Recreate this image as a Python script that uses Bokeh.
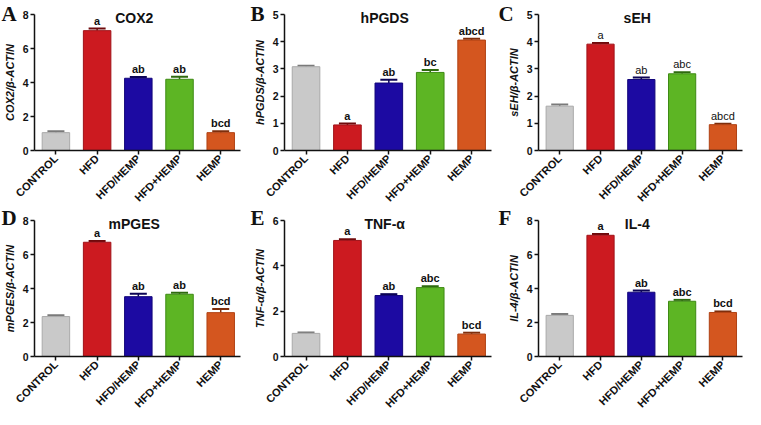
import numpy as np
from bokeh.plotting import figure
from bokeh.models import Range1d, FixedTicker, Label, LabelSet, ColumnDataSource
from bokeh.layouts import gridplot
from bokeh.embed import file_html
from bokeh.resources import INLINE
from bokeh.core.properties import value

groups = ["CONTROL", "HFD", "HFD/HEMP", "HFD+HEMP", "HEMP"]
bar_fill = ["#c9c9c9", "#cc1a20", "#1c0aa2", "#5db524", "#d4561f"]
bar_line = ["#a9a9a9", "#a01218", "#12067a", "#3e8a14", "#b04214"]
err_color = ["#7a7a7a", "#6e0a0c", "#0c0455", "#2e6a0e", "#7e2e0c"]

cox2_mean = [1.05, 7.05, 4.25, 4.19, 1.05]
cox2_err = [0.08, 0.12, 0.08, 0.15, 0.08]
cox2_sig = ["", "a", "ab", "ab", "bcd"]

hpgds_mean = [3.08, 0.94, 2.48, 2.87, 4.06]
hpgds_err = [0.04, 0.05, 0.12, 0.09, 0.05]
hpgds_sig = ["", "a", "ab", "bc", "abcd"]

seh_mean = [1.63, 3.91, 2.61, 2.82, 0.95]
seh_err = [0.06, 0.04, 0.07, 0.06, 0.03]
seh_sig = ["", "a", "ab", "abc", "abcd"]

mpges_mean = [2.35, 6.72, 3.52, 3.66, 2.58]
mpges_err = [0.07, 0.07, 0.17, 0.09, 0.22]
mpges_sig = ["", "a", "ab", "ab", "bcd"]

tnf_mean = [1.02, 5.12, 2.69, 3.04, 0.99]
tnf_err = [0.04, 0.05, 0.06, 0.06, 0.06]
tnf_sig = ["", "a", "ab", "abc", "bcd"]

il4_mean = [2.42, 7.13, 3.78, 3.25, 2.59]
il4_err = [0.08, 0.08, 0.1, 0.08, 0.06]
il4_sig = ["", "a", "ab", "abc", "bcd"]

panels = [
    ("A", "COX2", "COX2/β-ACTIN", cox2_mean, cox2_err, cox2_sig, 8, [0, 2, 4, 6, 8], "bold"),
    ("B", "hPGDS", "hPGDS/β-ACTIN", hpgds_mean, hpgds_err, hpgds_sig, 5, [0, 1, 2, 3, 4, 5], "bold"),
    ("C", "sEH", "sEH/β-ACTIN", seh_mean, seh_err, seh_sig, 5, [0, 1, 2, 3, 4, 5], "normal"),
    ("D", "mPGES", "mPGES/β-ACTIN", mpges_mean, mpges_err, mpges_sig, 8, [0, 2, 4, 6, 8], "bold"),
    ("E", "TNF-α", "TNF-α/β-ACTIN", tnf_mean, tnf_err, tnf_sig, 6, [0, 2, 4, 6], "bold"),
    ("F", "IL-4", "IL-4/β-ACTIN", il4_mean, il4_err, il4_sig, 8, [0, 2, 4, 6, 8], "bold"),
]

# layout (pixels, inside each figure; frame = whole figure)
col_w = [249, 248, 248]
axis_px = [34, 35, 41]      # x pixel of the y axis
end_px = [240, 242, 245]    # x pixel where the x axis ends
row_h = [204, 205]
top_px = [14, 16]           # y pixel of the top tick
base_px = [150, 152]        # y pixel of the zero line

X0, X1 = 0.48, 5.48
FONT = "Liberation Sans"
figs = []
for i, (letter, title, ylab, mean, err, sig, ymax, yticks, sigstyle) in enumerate(panels):
    r, c = divmod(i, 3)
    ux = (end_px[c] - axis_px[c]) / (X1 - X0)
    x_left = X0 - axis_px[c] / ux
    x_right = X1 + (col_w[c] - end_px[c]) / ux
    uy = (base_px[r] - top_px[r]) / ymax
    y_top = ymax + top_px[r] / uy
    y_bot = -(row_h[r] - base_px[r]) / uy
    p = figure(width=col_w[c], height=row_h[r], output_backend="svg", toolbar_location=None,
               x_range=Range1d(x_left, x_right), y_range=Range1d(y_bot, y_top),
               min_border_left=0, min_border_right=0, min_border_top=0, min_border_bottom=0)
    p.outline_line_color = None
    p.xgrid.visible = False
    p.ygrid.visible = False
    xs = [1, 2, 3, 4, 5]
    upper = [m + e for m, e in zip(mean, err)]
    src = ColumnDataSource(dict(x=xs, mean=mean, upper=upper, fill=bar_fill, line=bar_line,
                                ecol=err_color, sig=sig))
    p.segment(x0="x", x1="x", y0="mean", y1="upper", line_color="ecol", line_width=1.5, source=src)
    p.scatter(x="x", y="upper", marker="dash", size=17, line_color="ecol", line_width=2, source=src)
    p.vbar(x="x", top="mean", bottom=0, width=0.667, fill_color="fill", line_color="line",
           line_width=1, source=src)
    ls = LabelSet(x="x", y="upper", text="sig", source=src, text_align="center",
                  text_baseline="bottom", y_offset=2, text_font=value(FONT),
                  text_font_style=sigstyle, text_font_size="11px", text_color="#111111")
    p.add_layout(ls)
    p.add_layout(Label(x=2.9, y=ymax, y_offset=-3, text=title, text_align="center",
                       text_baseline="middle", text_font=FONT, text_font_style="bold",
                       text_font_size="14px", text_color="#111111"))
    p.add_layout(Label(x=x_left, y=y_top, x_offset=1, y_offset=-1, text=letter,
                       text_align="left", text_baseline="top", text_font="Liberation Serif",
                       text_font_style="bold", text_font_size="21px", text_color="#111111"))
    # axes
    for ax in (p.xaxis[0], p.yaxis[0]):
        ax.axis_line_width = 1.5
        ax.axis_line_color = "#111111"
        ax.major_tick_line_color = "#111111"
        ax.major_tick_line_width = 1.5
        ax.major_tick_in = 0
        ax.major_tick_out = 4
        ax.minor_tick_line_color = None
        ax.major_label_text_font = FONT
        ax.major_label_text_font_style = "bold"
        ax.major_label_text_color = "#111111"
    p.yaxis.fixed_location = X0
    p.yaxis.bounds = (0, ymax)
    p.yaxis.ticker = FixedTicker(ticks=yticks)
    p.yaxis.major_label_text_font_size = "10.5px"
    p.yaxis.major_label_standoff = 2
    p.yaxis.axis_label = ylab
    p.yaxis.axis_label_text_font = FONT
    p.yaxis.axis_label_text_font_style = "bold italic"
    p.yaxis.axis_label_text_font_size = "11px"
    p.yaxis.axis_label_standoff = 4
    p.yaxis.axis_label_text_color = "#111111"
    p.xaxis.fixed_location = 0
    p.xaxis.bounds = (X0, X1)
    p.xaxis.ticker = FixedTicker(ticks=xs)
    p.xaxis.major_label_overrides = {k: g for k, g in zip(xs, groups)}
    p.xaxis.major_label_orientation = np.pi / 4
    p.xaxis.major_label_text_font_size = "11px"
    p.xaxis.major_label_standoff = 2
    figs.append(p)

grid = gridplot([figs[:3], figs[3:]], toolbar_location=None)
open("out.html", "w").write(file_html(grid, INLINE))
